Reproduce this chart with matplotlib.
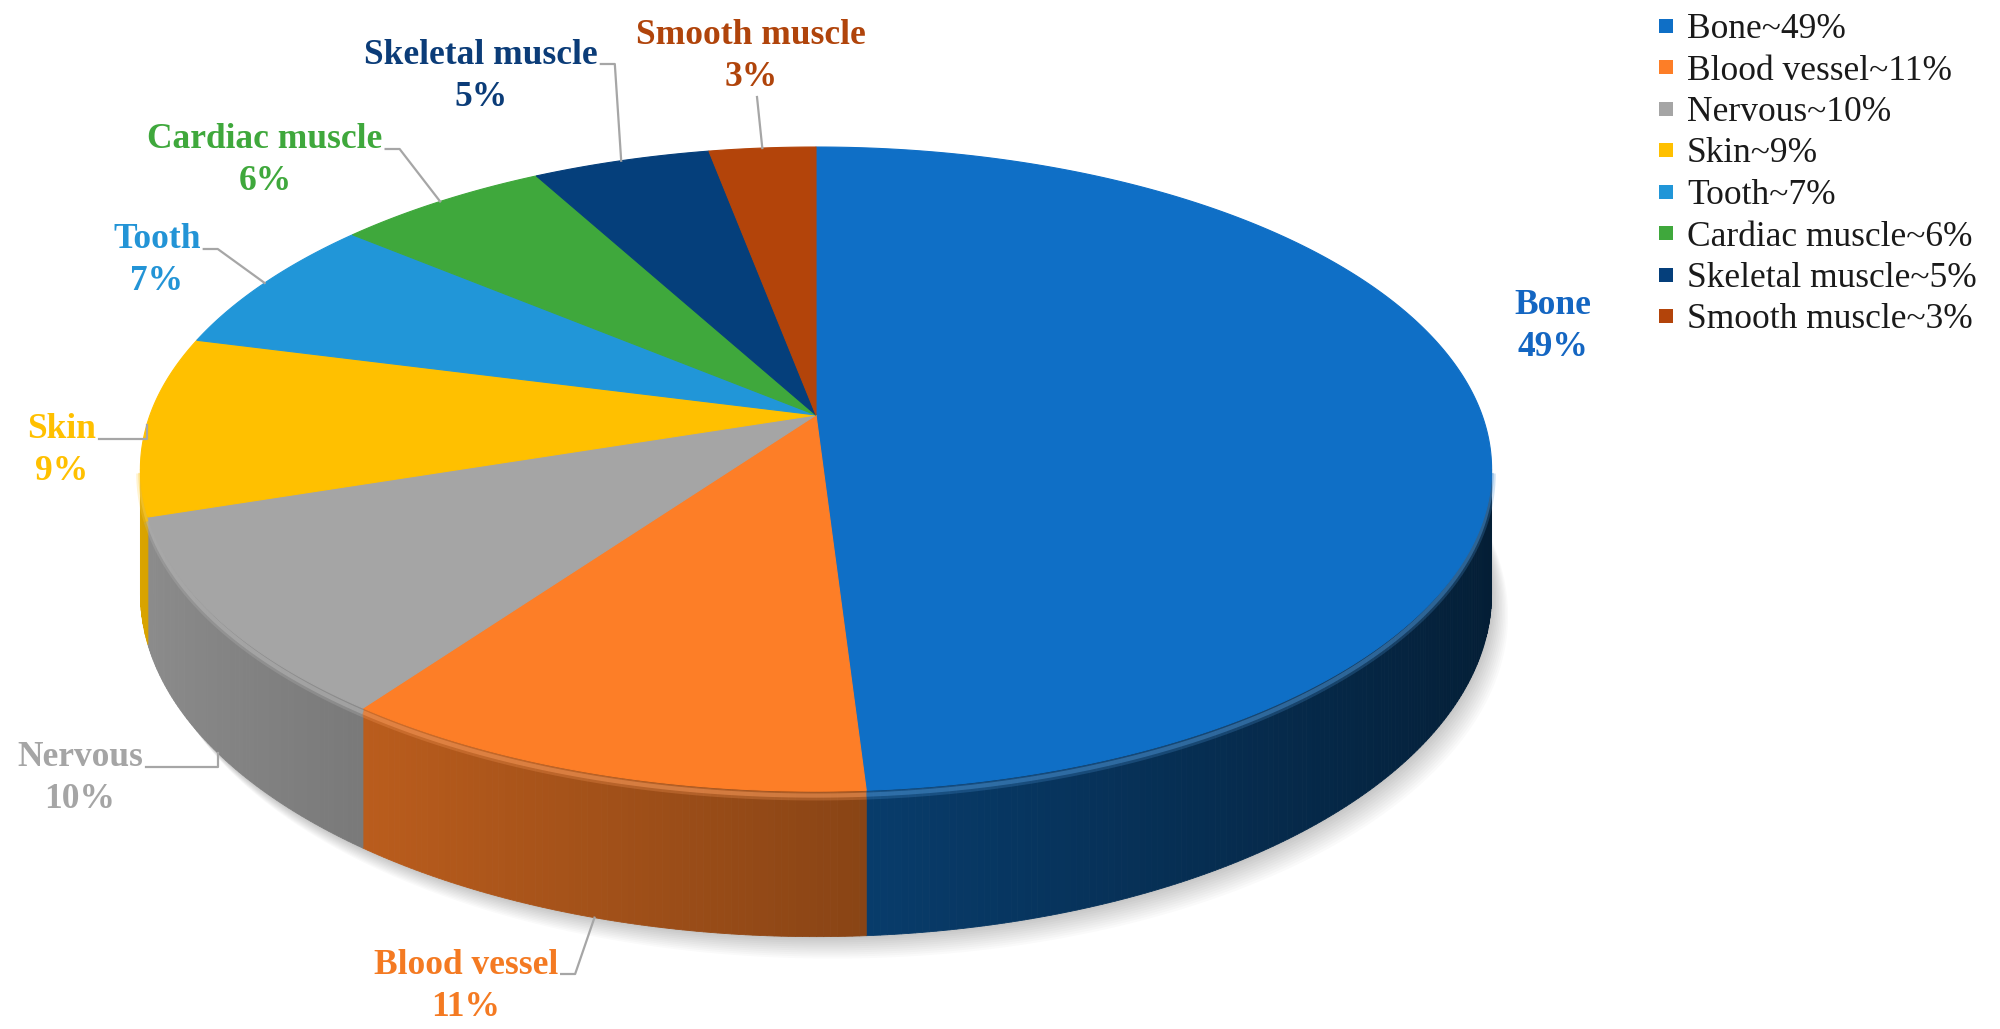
import numpy as np
import matplotlib.pyplot as plt
from matplotlib.patches import Polygon
from matplotlib.lines import Line2D
from matplotlib.colors import to_rgb

W, H = 2000, 1029

categories = ["Bone", "Blood vessel", "Nervous", "Skin", "Tooth",
              "Cardiac muscle", "Skeletal muscle", "Smooth muscle"]
shares = [49, 11, 10, 9, 7, 6, 5, 3]
colors = ["#0F6FC6", "#FD7E27", "#A5A5A5", "#FFC000", "#2196D8",
          "#3FA83C", "#053F7B", "#B3440A"]
text_colors = ["#1466C2", "#F47A22", "#A5A5A5", "#FFC000", "#2394D6",
               "#3FA83C", "#0B3C78", "#B0440B"]

# layout: first-line centre of each data label, and where its leader starts
label_xy = [(1553, 305), (466, 965), (80, 758), (62, 430), (157, 240),
            (265, 140), (481, 55), (751, 35)]
leader_side = [None, "right", "right", "right", "right", "right", "right", "below"]

# projection of the tilted disc (pixels)
CX, CY = 816, 415
RX = 666      # horizontal radius
RY = 313      # vertical radius at the centre depth
EPS = 0.168   # perspective strength
DEPTH = 121   # wall height at the centre depth

FONT = "Liberation Serif"
FS = 25.5


def project(theta, z=0.0):
    u = np.sin(theta)
    v = np.cos(theta)
    d = 1 + EPS * v
    return CX + RX * u / d, CY - (RY * v + DEPTH * z) / d


def shade(color, f):
    r, g, b = to_rgb(color)
    f = float(np.clip(f, 0, 1))
    return (r * f, g * f, b * f)


def lighten(color, a):
    r, g, b = to_rgb(color)
    return (r + (1 - r) * a, g + (1 - g) * a, b + (1 - b) * a)


fig = plt.figure(figsize=(W / 100, H / 100), dpi=100)
ax = fig.add_axes([0, 0, 1, 1])
ax.set_xlim(0, W)
ax.set_ylim(H, 0)
ax.axis("off")

fr = np.cumsum([0] + shares) / sum(shares)
starts = 2 * np.pi * fr[:-1]
ends = 2 * np.pi * fr[1:]
mids = (starts + ends) / 2

# soft shadow under the pie
ring = np.linspace(0, 2 * np.pi, 400)
bx, by = project(ring, -1.0)
for i in range(12):
    ax.add_patch(Polygon(np.column_stack([bx + i * 1.5, by + i * 2.0]), closed=True,
                         facecolor="black", edgecolor="none", alpha=0.018, zorder=1))

# outer walls, only the part facing the viewer
lo = np.pi - np.arccos(EPS)
hi = np.pi + np.arccos(EPS)
for s, e, c in zip(starts, ends, colors):
    a0, a1 = max(s, lo), min(e, hi)
    if a1 <= a0:
        continue
    t = np.linspace(a0, a1, max(3, int(np.degrees(a1 - a0) * 2)))
    for ta, tb in zip(t[:-1], t[1:]):
        tm = (ta + tb) / 2
        col = shade(c, 0.56 - 0.30 * np.sin(tm))
        xa0, ya0 = project(ta, 0)
        xb0, yb0 = project(tb, 0)
        xb1, yb1 = project(tb, -1)
        xa1, ya1 = project(ta, -1)
        ax.add_patch(Polygon([(xa0, ya0), (xb0, yb0), (xb1, yb1), (xa1, ya1)],
                             closed=True, facecolor=col, edgecolor=col, lw=0.6, zorder=2))
    # soft bevel along the top of the wall
    for z, lw, al in [(-0.035, 6, 0.25), (-0.03, 3, 0.45)]:
        hx, hy = project(t, z)
        ax.plot(hx, hy, color=lighten(c, 0.25), lw=lw, alpha=al, zorder=3,
                solid_capstyle="butt")

# top faces
for s, e, c in zip(starts, ends, colors):
    t = np.linspace(s, e, max(3, int(np.degrees(e - s) * 2)))
    rx, ry = project(t, 0)
    pts = [(CX, CY)] + list(zip(rx, ry))
    ax.add_patch(Polygon(pts, closed=True, facecolor=c, edgecolor=c, lw=0.8, zorder=4))

# data labels and leader lines
fig.canvas.draw()
renderer = fig.canvas.get_renderer()
for name, share, tc, (lx, ly), side, m in zip(categories, shares, text_colors,
                                              label_xy, leader_side, mids):
    t1 = ax.text(lx, ly, name, color=tc, fontsize=FS, fontweight="bold",
                 family=FONT, ha="center", va="center", zorder=6)
    ax.text(lx, ly + 42, f"{share}%", color=tc, fontsize=FS, fontweight="bold",
            family=FONT, ha="center", va="center", zorder=6)
    if side is None:
        continue
    z = -1.0 if np.cos(m) < -0.3 else 0.0
    axx, axy = project(m, z)
    if side == "below":
        xs, ys = [lx + 6, axx], [ly + 62, axy]
    else:
        bb = t1.get_window_extent(renderer)
        x0 = bb.x1 + 3
        yl = ly + 9
        kx = x0 + 14
        if abs(axy - yl) < 20:
            kx = axx
        xs, ys = [x0, kx, axx], [yl, yl, axy]
    ax.plot(xs, ys, color="#A6A6A6", lw=1.6, zorder=5)

# legend
handles = [Line2D([], [], marker="s", ls="none", color=c, markersize=10,
                  markeredgewidth=0) for c in colors]
labels = [f"{n}~{v}%" for n, v in zip(categories, shares)]
fig.legend(handles, labels, loc="upper left", bbox_to_anchor=(1655 / W, 1 - 13 / H),
           frameon=False, prop={"family": FONT, "size": FS}, handlelength=0.6,
           handletextpad=0.3, labelspacing=0.24, borderpad=0, borderaxespad=0,
           labelcolor="#1A1A1A")

fig.savefig("out.png", dpi=100)
